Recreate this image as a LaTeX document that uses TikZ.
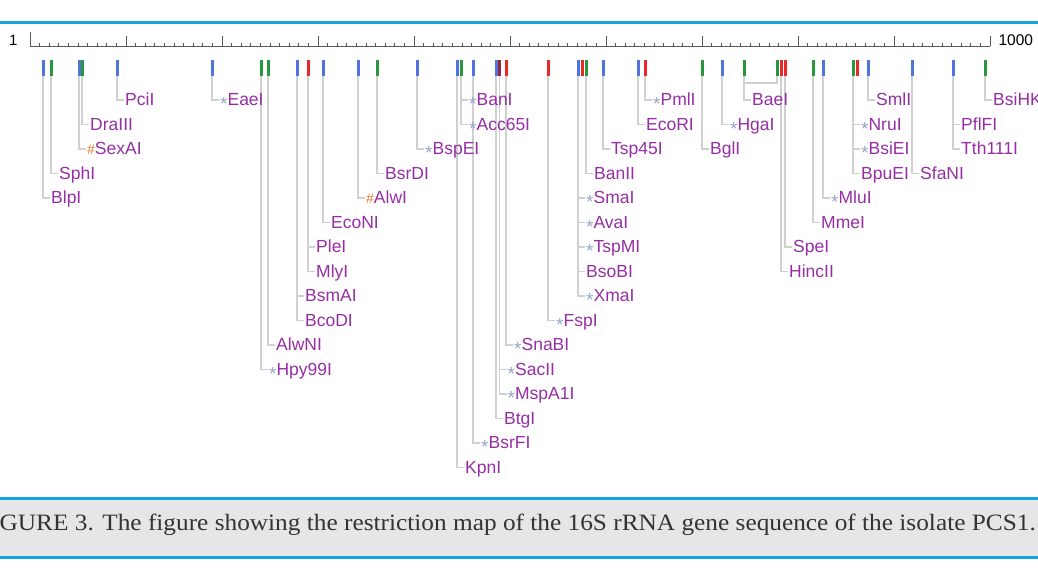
\documentclass[tikz,border=0pt]{standalone}
\usepackage{fontspec}
\setmainfont{Liberation Serif}
\newfontfamily\labfont{Liberation Sans}
\usepackage{graphicx}
\usepackage{tikz}
\usetikzlibrary{positioning}

\definecolor{bandblue}{RGB}{20,165,225}
\definecolor{bandgray}{RGB}{230,230,232}
\definecolor{siteblue}{RGB}{80,115,220}
\definecolor{sitegreen}{RGB}{40,150,60}
\definecolor{sitered}{RGB}{235,40,40}
\definecolor{sitedark}{RGB}{150,35,70}
\definecolor{leadgray}{RGB}{208,208,208}
\definecolor{enzpurple}{RGB}{150,45,165}
\definecolor{stargray}{RGB}{150,165,200}
\definecolor{hashorange}{RGB}{240,120,50}

\newcommand\nomark{}
\newcommand\starmark{{\color{stargray}\fontsize{19}{19}\selectfont\raisebox{-5pt}{*}}}
\newcommand\hashmark{{\color{hashorange}\fontsize{14}{14}\selectfont\#}}

\pgfdeclarelayer{behind}
\pgfsetlayers{behind,main}

\begin{document}
\begin{tikzpicture}[x=1pt, y=-1pt, font=\labfont,
    site/.style={rectangle, inner sep=0pt, minimum width=3pt,
                 minimum height=16pt, draw=none},
    enz/.style={anchor=west, inner sep=1pt, text=enzpurple,
                text height=12.5pt, text depth=1pt,
                font=\labfont\fontsize{17.5}{20}\selectfont},
    lead/.style={draw=leadgray, line width=1.5pt},
    tick/.style={draw=black!65, line width=0.8pt}]
    \useasboundingbox (0,0) rectangle (1038,576);
    \clip (0,0) rectangle (1038,576);

    % Blue rules and the caption band
        \draw[bandblue, line width=3pt] (0,22) -- (1038,22);
        \fill[bandgray] (0,499) rectangle (1038,556);
        \draw[bandblue, line width=3pt] (0,498.5) -- (1038,498.5);
        \draw[bandblue, line width=3pt] (0,557) -- (1038,557);

    % Add the ruler
        \coordinate (rstart) at (30,46);
        \coordinate (rend) at (990,46);
        \draw[tick] (rstart) -- (rend);
        \draw[tick] (30,32) -- (rstart);
        \foreach \i in {1,...,100}
            \draw[tick] (30+9.6*\i,46) -- (30+9.6*\i,43);
        \foreach \i in {1,...,10}
            \draw[tick] (30+96*\i,46) -- (30+96*\i,36);
        \node[left=9pt of rstart, anchor=base east, yshift=1pt,
              font=\labfont\fontsize{15}{15}\selectfont] (one) {1};
        \node[right=5pt of rend, anchor=base west, yshift=1pt,
              font=\labfont\fontsize{15.5}{15.5}\selectfont] (thousand) {1000};

    % Add the cut sites
        \foreach \s/\x/\c in {s1/43/siteblue, s2/51/sitegreen, s3/79/siteblue,
                s4/82/sitegreen, s5/117/siteblue, s6/212/siteblue,
                s7/261/sitegreen, s8/268/sitegreen, s9/297/siteblue,
                s10/308/sitered, s11/323/siteblue, s12/358/siteblue,
                s13/377/sitegreen, s14/417/siteblue, s15/457/siteblue,
                s16/461/sitegreen, s17/473/siteblue, s18/496/siteblue,
                s19/499.5/sitedark, s20/506/sitered, s21/548/sitered,
                s22/578/siteblue, s23/582/sitered, s24/586/sitegreen,
                s25/603/siteblue, s26/638/siteblue, s27/645/sitered,
                s28/702/sitegreen, s29/722/siteblue, s30/744/sitegreen,
                s31/777/sitegreen, s32/781/sitered, s33/785/sitered,
                s34/813/sitegreen, s35/823/siteblue, s36/853/sitegreen,
                s37/857/sitered, s38/868/siteblue, s39/912/siteblue,
                s40/953/siteblue, s41/985/sitegreen}
            \node[site, fill=\c] (\s) at (\x,68) {};

    % BaeI cuts at two sites
        \coordinate (baebrk) at (744,83);
        \draw[lead] (s31.south) |- (baebrk);

    % Add the enzyme names
        \foreach \s/\r/\m/\t in {s1/4/\nomark/BlpI, s2/3/\nomark/SphI,
                s3/2/\hashmark/SexAI, s4/1/\nomark/DraIII, s5/0/\nomark/PciI,
                s6/0/\starmark/EaeI, s7/11/\starmark/Hpy99I, s8/10/\nomark/AlwNI,
                s9/8/\nomark/BsmAI, s9/9/\nomark/BcoDI, s10/6/\nomark/PleI,
                s10/7/\nomark/MlyI, s11/5/\nomark/EcoNI, s12/4/\hashmark/AlwI,
                s13/3/\nomark/BsrDI, s14/2/\starmark/BspEI, s15/15/\nomark/KpnI,
                s16/0/\starmark/BanI, s16/1/\starmark/Acc65I,
                s17/14/\starmark/BsrFI, s18/13/\nomark/BtgI,
                s19/11/\starmark/SacII, s19/12/\starmark/MspA1I,
                s20/10/\starmark/SnaBI, s21/9/\starmark/FspI,
                s22/4/\starmark/SmaI, s22/5/\starmark/AvaI,
                s22/6/\starmark/TspMI, s22/7/\nomark/BsoBI,
                s22/8/\starmark/XmaI, s24/3/\nomark/BanII,
                s25/2/\nomark/Tsp45I, s26/1/\nomark/EcoRI,
                s27/0/\starmark/PmlI, s28/2/\nomark/BglI,
                s29/1/\starmark/HgaI, s30/0/\nomark/BaeI,
                s32/7/\nomark/HincII, s33/6/\nomark/SpeI,
                s34/5/\nomark/MmeI, s35/4/\starmark/MluI,
                s36/1/\starmark/NruI, s36/2/\starmark/BsiEI,
                s36/3/\nomark/BpuEI, s38/0/\nomark/SmlI,
                s39/3/\nomark/SfaNI, s40/1/\nomark/PflFI,
                s40/2/\nomark/Tth111I, s41/0/\nomark/BsiHKAI}
        {
            \path (\s) ++(7,32+24.5*\r) node[enz] (\t) {\m\t};
            \begin{pgfonlayer}{behind}
                \draw[lead] (\s.south) |- (\t.west);
            \end{pgfonlayer}
        }

    % Caption
        \node[anchor=base east, inner sep=0pt, text=black!80,
              font=\rmfamily\fontsize{22}{26}\selectfont] (caption)
            at (1036,530)
            {\resizebox{1036pt}{16.5pt}{\llap{FI}GURE 3. The figure showing the
             restriction map of the 16S rRNA gene sequence of the isolate PCS1.}};

\end{tikzpicture}
\end{document}
